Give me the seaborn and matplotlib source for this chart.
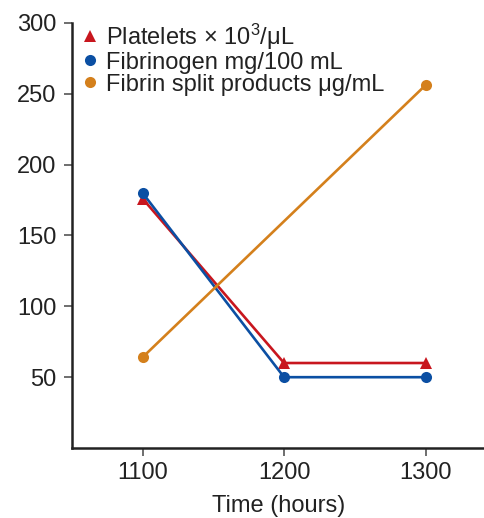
import matplotlib
matplotlib.use("Agg")
import matplotlib.pyplot as plt
import seaborn as sns
import pandas as pd

times = [1100, 1200, 1300]
platelets = [176, 60, 60]
fibrinogen = [180, 50, 50]
fsp = [64, None, 256]
series_names = ["Platelets × 10$^3$/μL", "Fibrinogen mg/100 mL", "Fibrin split products μg/mL"]
colors = ["#c8161e", "#0b4fa3", "#d4801c"]
markers = ["^", "o", "o"]
x_ticks = [1100, 1200, 1300]
y_ticks = [50, 100, 150, 200, 250, 300]

sns.set_theme(style="ticks")
plt.rcParams['font.family'] = ['Liberation Sans', 'DejaVu Sans']
plt.rcParams['mathtext.fontset'] = 'custom'
plt.rcParams['mathtext.rm'] = 'Liberation Sans'
plt.rcParams['mathtext.it'] = 'Liberation Sans'
plt.rcParams['mathtext.default'] = 'rm'

rows = []
for name, vals in zip(series_names, [platelets, fibrinogen, fsp]):
    for t, v in zip(times, vals):
        if v is not None:
            rows.append({"Time": t, "Value": v, "Series": name})
df = pd.DataFrame(rows)

fig = plt.figure(figsize=(4.85, 5.18), dpi=100)
ax = fig.add_axes([0.148, 0.135, 0.852, 0.821])

sns.lineplot(data=df, x="Time", y="Value", hue="Series", style="Series",
             hue_order=series_names, style_order=series_names,
             palette=dict(zip(series_names, colors)),
             markers=dict(zip(series_names, markers)),
             dashes=False, markersize=8, markeredgewidth=0,
             linewidth=1.9, ax=ax)

ax.set_xlim(1050, 1342)
ax.set_ylim(0, 300)
ax.set_xticks(x_ticks)
ax.set_yticks(y_ticks)
ax.set_xlabel("Time (hours)", fontsize=17, color="#222222", labelpad=8)
ax.set_ylabel("")
ax.tick_params(axis="both", labelsize=17, colors="#555555", length=6, width=1.2,
               labelcolor="#222222", pad=5)
ax.tick_params(axis="x", pad=4)
for s in ["top", "right"]:
    ax.spines[s].set_visible(False)
for s in ["left", "bottom"]:
    ax.spines[s].set_linewidth(1.8)
    ax.spines[s].set_color("#222222")

leg = ax.legend(loc="upper left", bbox_to_anchor=(-0.012, 1.042), frameon=False,
                fontsize=17, handlelength=0.6, handletextpad=0.35,
                labelspacing=0.0, borderaxespad=0.3)
for t in leg.get_texts():
    t.set_color("#222222")
for h in leg.legend_handles:
    h.set_linestyle("None")
    h.set_markersize(8)

fig.savefig("out.png", dpi=100)
